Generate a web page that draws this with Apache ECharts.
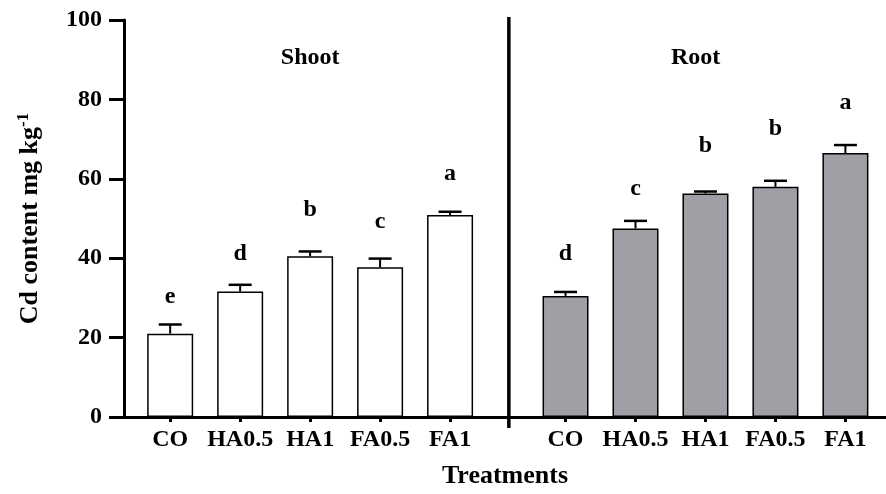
<!DOCTYPE html>
<html>
<head>
<meta charset="utf-8">
<script src="https://cdn.jsdelivr.net/npm/echarts@6/dist/echarts.min.js"></script>
<style>html,body{margin:0;padding:0;background:#fff}#c{width:886px;height:494px}</style>
</head>
<body>
<div id="c"></div>
<script>
// ---- data ----
const categories = ['CO', 'HA0.5', 'HA1', 'FA0.5', 'FA1'];
const groupTitles = ['Shoot', 'Root'];
const shootValues = [21.0, 31.6, 40.5, 37.7, 50.9];
const shootErrors = [2.3, 1.7, 1.2, 2.2, 0.8];
const rootValues = [30.5, 47.5, 56.3, 58.0, 66.5];
const rootErrors = [1.0, 1.9, 0.5, 1.5, 2.0];
const shootLetters = ['e', 'd', 'b', 'c', 'a'];
const rootLetters = ['d', 'c', 'b', 'b', 'a'];
const shootLetterY = [30.3, 41.2, 52.1, 49.2, 61.2];
const rootLetterY = [41.2, 57.4, 68.3, 72.5, 79.2];
const groupTitleY = 90.4;
const yTicks = [0, 20, 40, 60, 80, 100];

// ---- layout (category slots on a numeric x scale) ----
const SHOOT_START = 0.66, ROOT_START = 6.31, SEP = 5.5, X_MAX = 10.89;
const shootX = categories.map((c, i) => SHOOT_START + i);
const rootX = categories.map((c, i) => ROOT_START + i);
const allX = shootX.concat(rootX);
const allLabels = categories.concat(categories);
const FONT = '"Liberation Serif", "Times New Roman", serif';

function labelFor(v) {
  let best = 0, d = Infinity;
  allX.forEach((x, i) => { const dd = Math.abs(x - v); if (dd < d) { d = dd; best = i; } });
  return allLabels[best];
}

const chart = echarts.init(document.getElementById('c'), null, { renderer: 'canvas' });

const barBase = { type: 'bar', barWidth: 46, barGap: '-100%', z: 2 };
const errData = shootX.map((x, i) => [x, shootValues[i], shootErrors[i]])
  .concat(rootX.map((x, i) => [x, rootValues[i], rootErrors[i]]));
const letterData = shootX.map((x, i) => [x, shootLetterY[i], shootLetters[i]])
  .concat(rootX.map((x, i) => [x, rootLetterY[i], rootLetters[i]]));
const titleData = [
  [(shootX[0] + shootX[4]) / 2, groupTitleY, groupTitles[0]],
  [(rootX[0] + rootX[4]) / 2 - 0.14, groupTitleY, groupTitles[1]]
];

function textRender(size, texts) {
  return function (params, api) {
    const p = api.coord([api.value(0), api.value(1)]);
    return {
      type: 'text', x: p[0], y: p[1],
      style: { text: texts[params.dataIndex], font: 'bold ' + size + 'px ' + FONT, fill: '#000', align: 'center', verticalAlign: 'middle' }
    };
  };
}

const option = {
  animation: false,
  backgroundColor: '#fff',
  grid: { left: 124, right: 0, top: 20, bottom: 77, containLabel: false },
  xAxis: {
    type: 'value', min: 0, max: X_MAX,
    name: 'Treatments', nameLocation: 'middle', nameGap: 46,
    nameTextStyle: { fontFamily: FONT, fontWeight: 'bold', fontSize: 26, color: '#000' },
    splitLine: { show: false },
    axisLine: { show: true, onZero: false, lineStyle: { color: '#000', width: 3 } },
    axisTick: { show: true, customValues: allX, length: 5, lineStyle: { color: '#000', width: 3 } },
    axisLabel: { customValues: allX, formatter: labelFor, margin: 11, fontFamily: FONT, fontWeight: 'bold', fontSize: 24, color: '#000' }
  },
  yAxis: {
    type: 'value', min: 0, max: 100, interval: 20,
    name: '{n|Cd content mg kg}{s|-1}', nameLocation: 'middle', nameGap: 78,
    nameTextStyle: {
      rich: {
        n: { fontFamily: FONT, fontWeight: 'bold', fontSize: 26, color: '#000' },
        s: { fontFamily: FONT, fontWeight: 'bold', fontSize: 17, color: '#000', verticalAlign: 'top', padding: [0, 0, 14, 0] }
      }
    },
    splitLine: { show: false },
    axisLine: { show: true, lineStyle: { color: '#000', width: 3 } },
    axisTick: { show: true, length: 15, lineStyle: { color: '#000', width: 3 } },
    axisLabel: { margin: 22, fontFamily: FONT, fontWeight: 'bold', fontSize: 24, color: '#000' }
  },
  series: [
    Object.assign({}, barBase, {
      name: groupTitles[0],
      data: shootX.map((x, i) => [x, shootValues[i]]),
      itemStyle: { color: '#ffffff', borderColor: '#000', borderWidth: 1.5 }
    }),
    Object.assign({}, barBase, {
      name: groupTitles[1],
      data: rootX.map((x, i) => [x, rootValues[i]]),
      itemStyle: { color: '#a19fa6', borderColor: '#000', borderWidth: 1.5 }
    }),
    {
      type: 'custom', z: 3, data: errData,
      renderItem: function (params, api) {
        const x = api.value(0), y = api.value(1), e = api.value(2);
        const b = api.coord([x, y]), t = api.coord([x, y + e]);
        return {
          type: 'group', children: [
            { type: 'line', shape: { x1: b[0], y1: b[1], x2: t[0], y2: t[1] }, style: { stroke: '#000', lineWidth: 2 } },
            { type: 'line', shape: { x1: t[0] - 11.5, y1: t[1], x2: t[0] + 11.5, y2: t[1] }, style: { stroke: '#000', lineWidth: 2.5 } }
          ]
        };
      }
    },
    { type: 'custom', z: 4, data: letterData.map(d => [d[0], d[1]]), renderItem: textRender(24, letterData.map(d => d[2])) },
    { type: 'custom', z: 4, data: titleData.map(d => [d[0], d[1]]), renderItem: textRender(24, titleData.map(d => d[2])) }
  ]
};
chart.setOption(option);

const sepTop = chart.convertToPixel({ gridIndex: 0 }, [SEP, 100]);
const sepBot = chart.convertToPixel({ gridIndex: 0 }, [SEP, 0]);
chart.setOption({
  graphic: [{
    type: 'line', z: 10,
    shape: { x1: sepTop[0], y1: sepTop[1] - 3, x2: sepBot[0], y2: sepBot[1] + 11 },
    style: { stroke: '#000', lineWidth: 3.5 }
  }]
});
</script>
</body>
</html>
